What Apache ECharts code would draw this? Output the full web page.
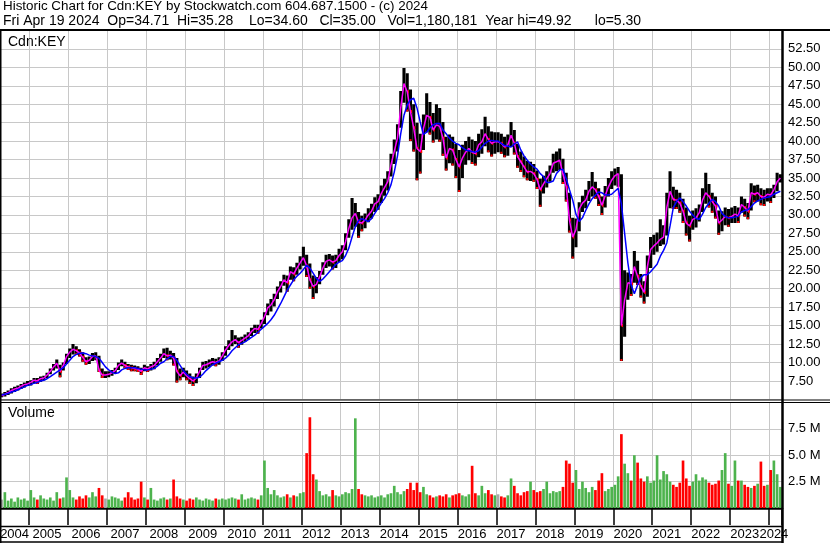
<!DOCTYPE html>
<html>
<head>
<meta charset="utf-8">
<script src="https://cdn.jsdelivr.net/npm/echarts@6/dist/echarts.min.js"></script>
<style>html,body{margin:0;padding:0;background:#fff}#chart{width:830px;height:543px}</style>
</head>
<body>
<div id="chart"></div>
<script>
// ---- data (monthly, Apr 2004 .. Apr 2024) ----
const startYear = 2004, startMonth = 4;
const high = [
  5.8, 6.0, 6.2, 6.5, 6.7, 6.9, 7.1, 7.3, 7.5,
  7.6, 7.9, 7.9, 8.1, 8.2, 8.6, 9.2, 9.8, 10.4, 9.7, 10.0, 11.2,
  11.9, 12.5, 12.2, 11.8, 11.4, 10.7, 10.8, 11.3, 11.4, 10.9, 9.2, 8.8,
  8.8, 9.0, 9.3, 10.0, 10.4, 10.1, 9.8, 9.7, 9.6, 9.5, 9.3, 9.7,
  9.5, 9.8, 10.1, 10.6, 11.2, 11.9, 12.0, 11.6, 11.3, 10.6, 9.2, 9.3,
  8.9, 8.5, 8.1, 8.5, 9.3, 10.1, 10.2, 10.4, 10.6, 10.5, 10.7, 11.4,
  12.2, 13.0, 14.4, 13.7, 13.4, 13.5, 13.8, 14.1, 14.7, 15.1, 15.1, 15.8,
  16.8, 18.0, 18.6, 19.3, 20.3, 21.0, 21.9, 21.8, 23.0, 22.9, 23.5, 24.4,
  25.7, 24.6, 23.4, 21.8, 21.6, 22.4, 23.6, 24.6, 24.7, 24.5, 24.6, 25.4,
  25.9, 27.5, 29.4, 32.3, 31.6, 30.4, 29.9, 30.2, 30.9, 31.5, 32.4, 32.8,
  34.0, 34.9, 35.9, 38.3, 40.2, 42.3, 46.8, 49.92, 49.2, 47.0, 45.0, 42.5,
  41.0, 43.6, 46.5, 45.3, 43.8, 45.0, 44.5, 42.6, 40.6, 40.9, 40.6, 39.6,
  38.8, 39.5, 40.0, 40.6, 40.2, 40.0, 41.0, 41.6, 43.3, 42.0, 41.3, 41.2,
  41.2, 41.0, 40.6, 40.9, 42.6, 41.5, 39.6, 38.6, 37.9, 37.3, 37.2, 36.9,
  36.0, 34.9, 35.3, 35.9, 36.7, 38.3, 38.6, 39.0, 37.6, 35.7, 33.0, 29.6,
  29.5, 31.7, 32.6, 33.4, 34.6, 35.8, 34.5, 33.6, 32.5, 33.9, 35.0, 35.9,
  36.3, 36.5, 35.5, 22.5, 22.2, 22.0, 25.1, 23.8, 22.0, 21.0, 24.5, 27.0,
  27.3, 27.6, 29.4, 28.6, 33.0, 35.9, 33.8, 33.4, 33.0, 32.2, 31.0, 29.9,
  30.6, 30.9, 31.4, 33.6, 35.7, 34.2, 33.0, 32.5, 30.6, 30.5, 31.0, 30.8,
  31.0, 31.2, 31.0, 32.5, 32.2, 31.6, 34.3, 34.0, 34.1, 33.6, 33.4, 33.6,
  33.6, 34.1, 35.7, 35.5
];
const low = [
  5.3, 5.4, 5.6, 5.8, 6.0, 6.2, 6.4, 6.6, 6.8,
  6.9, 7.2, 7.1, 7.4, 7.6, 7.9, 8.4, 8.9, 9.2, 8.0, 8.9, 9.8,
  10.6, 11.1, 11.0, 10.8, 10.1, 9.7, 9.8, 10.2, 10.3, 8.7, 7.9, 7.9,
  8.0, 8.2, 8.5, 9.0, 9.5, 9.2, 9.0, 8.8, 8.8, 8.7, 8.3, 8.8,
  8.7, 8.9, 9.1, 9.6, 10.1, 10.6, 10.3, 10.4, 9.6, 7.3, 7.6, 8.0,
  7.6, 7.1, 6.8, 7.2, 7.9, 9.0, 9.2, 9.4, 9.6, 9.5, 9.7, 10.2,
  10.9, 11.7, 12.2, 12.5, 12.0, 12.4, 12.8, 13.1, 13.6, 14.0, 13.9, 14.6,
  15.2, 16.4, 16.9, 17.6, 18.6, 19.5, 20.4, 19.6, 21.2, 21.0, 21.9, 22.6,
  23.1, 21.6, 20.0, 18.6, 19.4, 20.6, 21.9, 22.8, 23.0, 22.6, 22.8, 23.6,
  24.0, 25.2, 26.9, 28.0, 28.4, 26.9, 27.8, 28.2, 29.0, 29.5, 30.4, 30.7,
  31.6, 32.6, 33.3, 35.2, 36.9, 38.6, 41.8, 45.2, 44.0, 40.0, 38.6, 34.7,
  35.6, 38.8, 41.2, 40.9, 39.8, 40.2, 39.9, 38.0, 36.0, 37.0, 36.7, 35.0,
  33.1, 35.0, 36.8, 37.4, 36.9, 36.7, 37.8, 38.3, 39.3, 38.5, 37.9, 38.3,
  38.5, 38.3, 37.8, 38.0, 39.2, 38.2, 36.4, 35.8, 35.1, 34.7, 34.6, 34.5,
  33.5, 31.1, 32.9, 33.7, 34.5, 35.7, 35.9, 36.1, 34.2, 31.8, 27.6, 24.1,
  25.6, 27.8, 30.4, 30.9, 31.9, 32.5, 32.2, 31.2, 30.0, 31.0, 32.5, 33.5,
  34.0, 33.8, 10.2, 13.5, 18.5, 19.0, 20.8, 20.5, 18.8, 18.0, 18.9, 22.8,
  24.6, 25.0, 25.8, 26.0, 27.2, 30.9, 30.8, 30.8, 30.3, 28.9, 27.2, 26.4,
  28.0, 28.3, 29.1, 30.4, 31.5, 31.0, 30.3, 29.5, 27.3, 27.8, 28.6, 28.4,
  28.9, 28.9, 28.9, 30.3, 29.8, 29.4, 30.6, 31.7, 31.8, 31.3, 31.2, 31.8,
  31.6, 32.3, 33.2, 34.4
];
const close = [
  5.5, 5.7, 5.9, 6.2, 6.4, 6.5, 6.8, 7.0, 7.1,
  7.3, 7.6, 7.5, 7.8, 7.9, 8.3, 8.8, 9.4, 9.9, 8.8, 9.6, 10.8,
  11.4, 11.8, 11.6, 11.3, 10.7, 10.1, 10.3, 10.8, 10.9, 9.0, 8.3, 8.3,
  8.4, 8.6, 8.9, 9.6, 9.9, 9.6, 9.4, 9.3, 9.2, 9.1, 8.8, 9.3,
  9.1, 9.4, 9.6, 10.1, 10.6, 11.2, 10.9, 11.0, 10.6, 8.8, 8.2, 8.7,
  8.2, 7.8, 7.5, 7.9, 8.8, 9.6, 9.7, 9.9, 10.1, 10.0, 10.2, 10.9,
  11.7, 12.3, 12.8, 13.1, 12.7, 13.0, 13.3, 13.6, 14.2, 14.6, 14.5, 15.3,
  16.2, 17.4, 17.8, 18.5, 19.6, 20.3, 21.2, 20.8, 22.3, 22.0, 22.8, 23.5,
  24.2, 23.1, 21.2, 20.3, 20.6, 21.6, 22.8, 23.7, 23.9, 23.6, 23.8, 24.5,
  25.0, 26.4, 28.2, 29.6, 30.2, 29.0, 28.9, 29.3, 30.0, 30.5, 31.5, 31.8,
  32.9, 33.7, 34.5, 36.8, 38.6, 40.4, 44.5, 47.8, 46.7, 44.0, 41.8, 39.0,
  38.6, 41.7, 43.5, 43.2, 41.5, 42.2, 42.0, 40.4, 37.7, 39.0, 38.8, 37.5,
  36.5, 37.7, 38.5, 39.0, 38.5, 38.3, 39.5, 39.9, 41.0, 40.2, 39.7, 39.9,
  39.9, 39.7, 39.2, 39.5, 40.8, 39.7, 37.9, 37.2, 36.5, 35.8, 35.9, 35.6,
  34.8, 33.4, 34.2, 34.9, 35.6, 37.0, 37.2, 37.4, 35.5, 33.8, 29.3, 27.0,
  28.0, 30.8, 31.6, 32.0, 33.2, 33.8, 33.4, 32.5, 31.3, 32.6, 33.8, 34.7,
  35.3, 35.6, 15.0, 18.5, 20.8, 20.7, 23.0, 21.7, 20.3, 19.5, 23.0, 25.3,
  25.8, 26.2, 26.7, 27.0, 31.0, 33.2, 32.1, 32.0, 31.6, 30.5, 28.9, 28.5,
  29.4, 29.6, 30.3, 32.0, 33.0, 32.5, 31.8, 31.2, 28.9, 29.3, 29.8, 29.6,
  29.8, 30.1, 29.9, 31.4, 31.0, 30.5, 33.0, 32.8, 33.0, 32.5, 32.4, 32.8,
  32.7, 33.4, 34.5, 35.0
];
const maSlow = [
  5.6, 5.7, 5.8, 6.0, 6.1, 6.3, 6.5, 6.7, 6.9,
  7.0, 7.2, 7.3, 7.5, 7.6, 7.8, 8.1, 8.4, 8.7, 9.0, 9.3, 9.8,
  10.3, 10.8, 11.1, 11.25, 11.3, 11.2, 11.0, 10.9, 10.8, 10.6, 10.0, 9.4,
  9.0, 8.7, 8.5, 8.6, 9.0, 9.2, 9.3, 9.3, 9.3, 9.2, 9.1, 9.0,
  9.0, 9.1, 9.2, 9.5, 9.9, 10.1, 10.5, 10.8, 10.8, 10.3, 9.6, 8.9,
  8.4, 8.1, 7.9, 7.9, 8.0, 8.4, 8.9, 9.3, 9.7, 9.9, 10.1, 10.3,
  10.6, 11.0, 11.6, 12.0, 12.4, 12.6, 12.8, 13.1, 13.4, 13.7, 14.1, 14.5,
  14.9, 15.3, 15.8, 16.4, 17.2, 18.0, 18.9, 19.8, 20.5, 21.2, 21.7, 22.1,
  22.6, 23.2, 22.8, 22.1, 21.4, 21.0, 21.3, 21.8, 22.3, 22.8, 23.3, 23.6,
  23.8, 24.5, 25.5, 27.0, 28.4, 29.2, 29.5, 29.3, 29.1, 29.5, 30.2, 30.9,
  31.6, 32.2, 33.0, 34.1, 35.8, 38.0, 41.0, 43.5, 44.9, 45.6, 45.8, 44.5,
  42.6, 40.9, 41.2, 41.8, 42.2, 42.4, 42.4, 41.5, 41.0, 40.4, 40.0, 39.7,
  39.5, 39.1, 38.8, 38.7, 38.6, 38.5, 38.7, 39.2, 39.7, 40.0, 40.1, 40.0,
  40.0, 39.7, 39.4, 39.3, 39.2, 39.6, 39.9, 38.8, 38.0, 37.4, 36.9, 36.5,
  36.2, 35.6, 35.2, 34.4, 34.4, 34.6, 35.6, 36.1, 36.2, 34.9, 33.4, 32.0,
  30.1, 29.1, 29.6, 30.6, 31.5, 32.2, 32.7, 33.1, 33.0, 32.7, 32.7, 32.8,
  33.2, 33.6, 31.5, 27.5, 23.5, 20.5, 19.3, 20.5, 21.5, 21.9, 21.9, 22.3,
  22.8, 23.3, 24.4, 25.2, 26.2, 28.5, 31.0, 31.8, 32.3, 31.8, 31.2, 30.5,
  30.0, 29.5, 29.4, 30.1, 31.0, 31.6, 32.1, 31.8, 31.2, 30.2, 29.8, 29.6,
  29.6, 29.7, 29.8, 30.4, 30.6, 30.7, 31.1, 31.6, 31.9, 32.1, 32.3, 32.4,
  32.5, 32.8, 33.0, 33.2
];
const volume = [ // millions of shares
  0.8, 1.5, 0.7, 0.9, 0.6, 1.0, 0.8, 0.9, 0.7,
  1.7, 1.0, 0.8, 1.2, 0.9, 0.8, 1.0, 0.7, 1.5, 0.9, 1.0, 2.9,
  1.7, 1.0, 0.8, 1.1, 0.9, 1.2, 1.0, 1.5, 1.1, 1.9, 1.2, 0.9,
  0.8, 1.1, 1.0, 0.9, 0.7, 1.0, 1.5, 1.0, 0.8, 0.9, 2.5, 1.0,
  0.8, 1.9, 0.8, 0.7, 0.9, 1.0, 0.8, 0.9, 2.7, 1.1, 0.9, 0.8,
  0.7, 0.9, 0.8, 1.0, 0.8, 0.7, 0.9, 0.8, 0.7, 0.9, 0.8, 0.9,
  0.8, 0.9, 1.0, 0.9, 0.8, 1.3, 0.8, 0.9, 1.0, 0.9, 0.8, 1.2,
  4.5, 1.9, 1.3, 1.7, 1.2, 1.0, 1.1, 1.3, 1.0, 1.2, 1.1, 1.4,
  1.5, 5.2, 8.6, 3.2, 2.7, 1.6, 1.2, 1.3, 1.1, 1.7, 1.2, 1.1,
  1.3, 1.5, 1.4, 1.8, 8.5, 1.8, 1.3, 1.2, 1.1, 1.2, 1.0, 1.1,
  1.2, 1.0, 1.3, 1.4, 2.1, 1.5, 1.3, 1.6, 1.8, 2.4, 1.7, 2.4,
  1.5, 2.0, 1.3, 1.2, 1.0, 1.1, 1.2, 1.1, 1.3, 1.0, 1.2, 1.3,
  1.4, 1.2, 1.1, 1.3, 4.0, 1.4, 1.2, 2.1, 1.4, 1.7, 1.3, 1.2,
  1.3, 1.1, 1.0, 1.2, 2.8, 2.1, 1.4, 1.2, 1.5, 1.6, 2.5, 1.7,
  1.5, 1.6, 1.8, 2.5, 1.4, 1.6, 1.5, 1.6, 2.0, 4.5, 4.2, 2.4,
  3.6, 1.8, 2.5, 1.9, 1.5, 2.0, 1.7, 2.6, 3.3, 1.6, 1.8, 2.0,
  2.2, 3.0, 7.0, 4.2, 3.3, 2.6, 5.0, 4.3, 2.8, 2.5, 3.0, 2.4,
  2.6, 5.0, 2.7, 3.5, 3.2, 2.5, 2.2, 2.0, 2.4, 4.5, 2.8, 2.1,
  2.5, 3.2, 2.6, 2.9, 2.7, 2.4, 2.2, 2.3, 2.6, 3.6, 5.2, 2.3,
  2.1, 4.5, 2.6, 2.6, 2.2, 2.0, 1.9, 2.1, 2.3, 4.4, 2.1, 2.2,
  3.6, 4.5, 3.2, 2.0
];
const priceTicks = { min: 5, max: 55, step: 2.5 };
const volumeTicks = { min: 0, max: 10, step: 2.5 };
const titleLine1 = 'Historic Chart for Cdn:KEY by Stockwatch.com 604.687.1500 - (c) 2024';
const titleLine2 = 'Fri Apr 19 2024  Op=34.71  Hi=35.28    Lo=34.60   Cl=35.00   Vol=1,180,181  Year hi=49.92      lo=5.30';

// ---- categories ----
const months = [];
for (let i = 0; i < close.length; i++) {
  const m = startMonth - 1 + i;
  months.push((startYear + Math.floor(m / 12)) + '-' + String(m % 12 + 1).padStart(2, '0'));
}
const lastYear = startYear + Math.floor((startMonth - 1 + close.length - 1) / 12);
function ym(v) { const p = v.split('-'); return [+p[0], +p[1]]; }
function isJan(idx, v) { return ym(v)[1] === 1; }
function isLabel(idx, v) {
  const [y, m] = ym(v);
  if (y === startYear) return m === 8;
  if (y === lastYear) return m === 2;
  return m === (y <= 2010 ? 6 : 5);
}

const FONT = 'Liberation Sans, Arial, sans-serif';
const GRID_LINE = '#c8c8c8';
const RED = '#ff0000', GREEN = '#4db34d', GREY = '#a8a8a8';

const ohlc = close.map((c, i) => [i, high[i], low[i], c, i > 0 ? close[i - 1] : c]);
const volData = volume.map((v, i) => {
  const prev = i > 0 ? close[i - 1] : close[i];
  const col = close[i] > prev ? GREEN : (close[i] < prev ? RED : GREY);
  return { value: v * 1e6, itemStyle: { color: col } };
});

const chart = echarts.init(document.getElementById('chart'), null, { renderer: 'canvas' });
const W = 830;
const txt = (size) => ({ fontSize: size, fontWeight: 'normal', color: '#000', fontFamily: FONT });
const option = {
  animation: false,
  backgroundColor: '#fff',
  textStyle: { fontFamily: FONT },
  title: [
    { text: titleLine1, left: 3, top: 0, padding: 0, textStyle: txt(13.4) },
    { text: titleLine2, left: 3, top: 14, padding: 0, textStyle: txt(14) },
    { text: 'Cdn:KEY', left: 8, top: 35, padding: 0, textStyle: txt(14) },
    { text: 'Volume', left: 8, top: 406, padding: 0, textStyle: txt(14) }
  ],
  grid: [
    { left: 0, right: 48, top: 30.4, height: 369, show: false, outerBoundsMode: 'none' },
    { left: 0, right: 48, top: 402.5, height: 105.5, show: false, outerBoundsMode: 'none' }
  ],
  xAxis: [
    { type: 'category', gridIndex: 0, data: months, boundaryGap: true,
      axisLine: { show: false }, axisTick: { show: false }, axisLabel: { show: false },
      splitLine: { show: true, interval: isJan, lineStyle: { color: GRID_LINE, width: 1 } } },
    { type: 'category', gridIndex: 1, data: months, boundaryGap: true,
      axisLine: { show: true, lineStyle: { color: '#000', width: 2.5 } },
      axisTick: { show: true, interval: isJan, length: 17, lineStyle: { color: '#000', width: 1.5 } },
      axisLabel: { show: true, interval: isLabel, margin: 20, fontSize: 13, color: '#000', fontFamily: FONT,
        hideOverlap: false, showMinLabel: true, showMaxLabel: true, formatter: v => v.slice(0, 4) },
      splitLine: { show: true, interval: isJan, lineStyle: { color: GRID_LINE, width: 1 } } }
  ],
  yAxis: [
    { type: 'value', gridIndex: 0, position: 'right', min: priceTicks.min, max: priceTicks.max, interval: priceTicks.step,
      axisLine: { show: false }, axisTick: { show: false },
      axisLabel: { show: true, margin: 6, fontSize: 13, color: '#000', fontFamily: FONT, align: 'left',
        showMinLabel: false, showMaxLabel: false, formatter: v => v.toFixed(2) },
      splitLine: { show: true, lineStyle: { color: GRID_LINE, width: 1 } } },
    { type: 'value', gridIndex: 1, position: 'right', min: volumeTicks.min * 1e6, max: volumeTicks.max * 1e6, interval: volumeTicks.step * 1e6,
      axisLine: { show: false }, axisTick: { show: false },
      axisLabel: { show: true, margin: 6, fontSize: 13, color: '#000', fontFamily: FONT, align: 'left',
        showMinLabel: false, showMaxLabel: false, formatter: v => (v / 1e6).toFixed(1) + ' M' },
      splitLine: { show: true, lineStyle: { color: GRID_LINE, width: 1 } } }
  ],
  series: [
    { type: 'custom', xAxisIndex: 0, yAxisIndex: 0, z: 2, clip: true,
      encode: { x: 0, y: [1, 2] },
      data: ohlc,
      renderItem: function (params, api) {
        const i = api.value(0);
        const hi = api.coord([i, api.value(1)]);
        const lo = api.coord([i, api.value(2)]);
        const cl = api.coord([i, api.value(3)]);
        const bw = api.size([1, 0])[0];
        const w = Math.max(1, bw * 0.95);
        const children = [
          { type: 'rect', shape: { x: hi[0] - w / 2, y: hi[1], width: w, height: Math.max(1, lo[1] - hi[1]) },
            style: { fill: '#000' } }
        ];
        if (api.value(3) < api.value(4)) {
          children.push({ type: 'rect', shape: { x: cl[0] + w / 2 - 1.5, y: cl[1] - 1.5, width: 2, height: 3 },
            style: { fill: RED } });
          children.push({ type: 'rect', shape: { x: lo[0] - 1, y: lo[1] - 2, width: 2, height: 2 },
            style: { fill: RED } });
        }
        return { type: 'group', children: children };
      } },
    { type: 'line', name: 'fast', xAxisIndex: 0, yAxisIndex: 0, z: 3, data: close, showSymbol: false,
      lineStyle: { color: '#ff00ff', width: 1.5 }, itemStyle: { color: '#ff00ff' } },
    { type: 'line', name: 'slow', xAxisIndex: 0, yAxisIndex: 0, z: 4, data: maSlow, showSymbol: false,
      lineStyle: { color: '#0000ff', width: 1.5 }, itemStyle: { color: '#0000ff' } },
    { type: 'bar', xAxisIndex: 1, yAxisIndex: 1, z: 2, data: volData, barCategoryGap: '18%' }
  ],
  graphic: [
    { type: 'line', z: 100, shape: { x1: 0, y1: 30, x2: W, y2: 30 }, style: { stroke: '#000', lineWidth: 2 } },
    { type: 'line', z: 100, shape: { x1: 0, y1: 400, x2: W, y2: 400 }, style: { stroke: '#000', lineWidth: 1 } },
    { type: 'line', z: 100, shape: { x1: 0, y1: 402.5, x2: W, y2: 402.5 }, style: { stroke: '#000', lineWidth: 1 } },
    { type: 'line', z: 100, shape: { x1: 0, y1: 526.5, x2: 782, y2: 526.5 }, style: { stroke: '#000', lineWidth: 1.5 } },
    { type: 'line', z: 100, shape: { x1: 0, y1: 542, x2: 782, y2: 542 }, style: { stroke: '#000', lineWidth: 1.5 } },
    { type: 'line', z: 100, shape: { x1: 0.75, y1: 30, x2: 0.75, y2: 543 }, style: { stroke: '#000', lineWidth: 1.5 } },
    { type: 'line', z: 100, shape: { x1: 782.5, y1: 30, x2: 782.5, y2: 543 }, style: { stroke: '#000', lineWidth: 2.5 } }
  ]
};
chart.setOption(option);
</script>
</body>
</html>
